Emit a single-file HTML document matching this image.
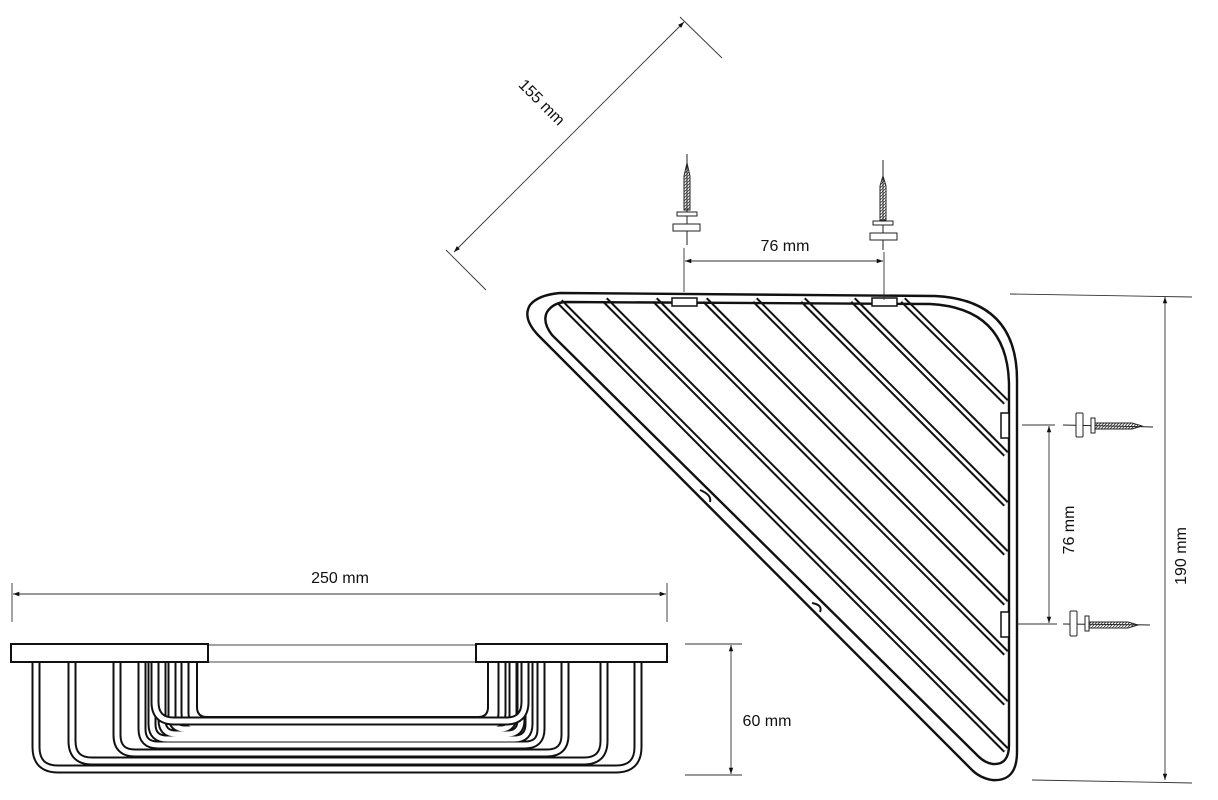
<!DOCTYPE html>
<html><head><meta charset="utf-8"><style>
html,body{margin:0;padding:0;background:#fff;width:1218px;height:800px;overflow:hidden}
svg{display:block}
text{font-family:"Liberation Sans",sans-serif;font-size:16px;fill:#111}
</style></head><body>
<svg width="1218" height="800" viewBox="0 0 1218 800" xmlns="http://www.w3.org/2000/svg">
<defs>
<marker id="a" viewBox="0 0 10 10" refX="10" refY="5" markerWidth="7" markerHeight="7" orient="auto-start-reverse"><path d="M0,1.5 L10,5 L0,8.5z" fill="#111"/></marker>
<pattern id="th" width="3" height="3" patternUnits="userSpaceOnUse"><path d="M0,3 L3,0" stroke="#333" stroke-width="0.8"/></pattern>
</defs>

<g fill="none" stroke-linecap="butt">
<g>
<path d="M903,300 L1006,402 M853,300 L1006,454 M803,300 L1006,504 M755,300 L1006,553 M705,300 L1006,603 M655,300 L1006,653 M605,300 L1006,703 M560,302 L1006,750" stroke="#111" stroke-width="7"/>
<path d="M903,300 L1006,402 M853,300 L1006,454 M803,300 L1006,504 M755,300 L1006,553 M705,300 L1006,603 M655,300 L1006,653 M605,300 L1006,703 M560,302 L1006,750" stroke="#fff" stroke-width="3"/>
</g>
<path d="M560,293 L935,296 Q1017,300 1017,380 L1017,752 Q1017,782 992,780 Q980,778 972,770 L538,335 Q522,318 530,305 Q538,295 560,293 Z" stroke="#111" stroke-width="2.4" fill="none"/>
<path d="M565,302 L930,304 Q1008,308 1009,385 L1009,745 Q1009,765 993,764 Q985,763 978,756 L552,335 Q542,322 547,312 Q553,303 565,302 Z" stroke="#111" stroke-width="2.4" fill="none"/>
<path d="M700,490 Q712,495 710,502" stroke="#111" stroke-width="2"/>
<path d="M812,603 Q823,605 820,612" stroke="#111" stroke-width="2"/>
<rect x="672" y="298" width="25" height="8" fill="#fff" stroke="#111" stroke-width="1.5"/>
<rect x="872" y="298" width="25" height="8" fill="#fff" stroke="#111" stroke-width="1.5"/>
<rect x="1001" y="413" width="8" height="25" fill="#fff" stroke="#111" stroke-width="1.5"/>
<rect x="1001" y="612" width="8" height="25" fill="#fff" stroke="#111" stroke-width="1.5"/>
</g>

<g stroke="#222" stroke-width="1" fill="#fff">
<line x1="687" y1="154" x2="687" y2="245"/>
<path d="M687,163 L690,176 L690,210 L684,210 L684,176 Z" fill="url(#th)"/>
<rect x="677" y="212" width="20" height="4"/>
<rect x="673" y="224" width="27" height="7"/>
<line x1="883" y1="160" x2="883" y2="250"/>
<path d="M883,176 L886,186 L886,220 L880,220 L880,186 Z" fill="url(#th)"/>
<rect x="873" y="221" width="20" height="4"/>
<rect x="870" y="233" width="27" height="7"/>
</g>
<g stroke="#222" stroke-width="1" fill="#fff">
<line x1="1063" y1="425" x2="1153" y2="427"/>
<rect x="1076" y="413" width="7" height="24" rx="1"/>
<rect x="1091" y="418" width="4" height="15"/>
<path d="M1095,423 L1132,423 L1142,426 L1132,429 L1095,429 Z" fill="url(#th)"/>
<line x1="1063" y1="624" x2="1150" y2="625"/>
<rect x="1070" y="611" width="7" height="25" rx="1"/>
<rect x="1085" y="616" width="4" height="15"/>
<path d="M1089,622 L1128,622 L1138,625 L1128,628 L1089,628 Z" fill="url(#th)"/>
</g>

<g stroke="#333" stroke-width="0.9" fill="none">
<line x1="446" y1="250" x2="486" y2="290"/>
<line x1="680" y1="17" x2="722" y2="58"/>
<line x1="454" y1="252" x2="684" y2="22" marker-start="url(#a)" marker-end="url(#a)"/>
<line x1="684" y1="248" x2="684" y2="292"/>
<line x1="884" y1="252" x2="884" y2="300"/>
<line x1="685" y1="261" x2="883" y2="261" marker-start="url(#a)" marker-end="url(#a)"/>
<line x1="1010" y1="294" x2="1192" y2="297"/>
<line x1="1032" y1="780" x2="1192" y2="783"/>
<line x1="1165" y1="297" x2="1165" y2="780" marker-start="url(#a)" marker-end="url(#a)"/>
<line x1="1022" y1="425" x2="1055" y2="425"/>
<line x1="1017" y1="624" x2="1057" y2="624"/>
<line x1="1049" y1="426" x2="1049" y2="623" marker-start="url(#a)" marker-end="url(#a)"/>
<line x1="12" y1="583" x2="12" y2="622"/>
<line x1="667" y1="583" x2="667" y2="622"/>
<line x1="13" y1="594" x2="666" y2="594" marker-start="url(#a)" marker-end="url(#a)"/>
<line x1="685" y1="644" x2="742" y2="644"/>
<line x1="685" y1="775" x2="742" y2="775"/>
<line x1="731" y1="645" x2="731" y2="774" marker-start="url(#a)" marker-end="url(#a)"/>
</g>

<text x="0" y="0" text-anchor="middle" transform="translate(538,106) rotate(45)">155 mm</text>
<text x="785" y="251" text-anchor="middle">76 mm</text>
<text x="0" y="0" text-anchor="middle" transform="translate(1186,556) rotate(-90)">190 mm</text>
<text x="0" y="0" text-anchor="middle" transform="translate(1074,530) rotate(-90)">76 mm</text>
<text x="340" y="583" text-anchor="middle">250 mm</text>
<text x="767" y="726" text-anchor="middle">60 mm</text>

<g fill="none">
<g stroke="#111" stroke-width="9">
<path d="M36,662 L36,747 Q36,769 58,769 L616,769 Q638,769 638,747 L638,662"/>
<path d="M72,662 L72,741 Q72,761 92,761 L584,761 Q604,761 604,741 L604,662"/>
<path d="M117,662 L117,735 Q117,753 135,753 L547,753 Q565,753 565,735 L565,662"/>
<path d="M142,662 L142,729 Q142,745 158,745 L525,745 Q541,745 541,729 L541,662"/>
<path d="M152,662 L152,724 Q152,739 167,739 L514,739 Q529,739 529,724 L529,662"/>
<path d="M162,662 L162,720 Q162,734 176,734 L507,734 Q521,734 521,720 L521,662"/>
<path d="M172,662 L172,716 Q172,729 185,729 L500,729 Q513,729 513,716 L513,662"/>
<path d="M185,662 L185,713 Q185,725 197,725 L490,725 Q502,725 502,713 L502,662"/>
</g>
<g stroke="#fff" stroke-width="5">
<path d="M36,660 L36,747 Q36,769 58,769 L616,769 Q638,769 638,747 L638,660"/>
<path d="M72,660 L72,741 Q72,761 92,761 L584,761 Q604,761 604,741 L604,660"/>
<path d="M117,660 L117,735 Q117,753 135,753 L547,753 Q565,753 565,735 L565,660"/>
<path d="M142,660 L142,729 Q142,745 158,745 L525,745 Q541,745 541,729 L541,660"/>
<path d="M152,660 L152,724 Q152,739 167,739 L514,739 Q529,739 529,724 L529,660"/>
<path d="M162,660 L162,720 Q162,734 176,734 L507,734 Q521,734 521,720 L521,660"/>
<path d="M172,660 L172,716 Q172,729 185,729 L500,729 Q513,729 513,716 L513,660"/>
<path d="M185,660 L185,713 Q185,725 197,725 L490,725 Q502,725 502,713 L502,660"/>
</g>
<path d="M155,660 L155,702 Q155,721 174,721 L506,721 Q525,721 525,702 L525,660" stroke="#111" stroke-width="9"/>
<path d="M155,660 L155,702 Q155,721 174,721 L506,721 Q525,721 525,702 L525,660" stroke="#fff" stroke-width="5"/>
<path d="M197,662 L197,707 Q197,717 207,717 L478,717 Q488,717 488,707 L488,662" stroke="#111" stroke-width="2"/>
</g>
<line x1="208" y1="645" x2="476" y2="645" stroke="#444" stroke-width="1"/>
<line x1="208" y1="662" x2="476" y2="662" stroke="#444" stroke-width="1"/>
<rect x="11" y="644" width="197" height="18" fill="#fff" stroke="#111" stroke-width="2"/>
<rect x="476" y="644" width="191" height="18" fill="#fff" stroke="#111" stroke-width="2"/>
</svg>
</body></html>
